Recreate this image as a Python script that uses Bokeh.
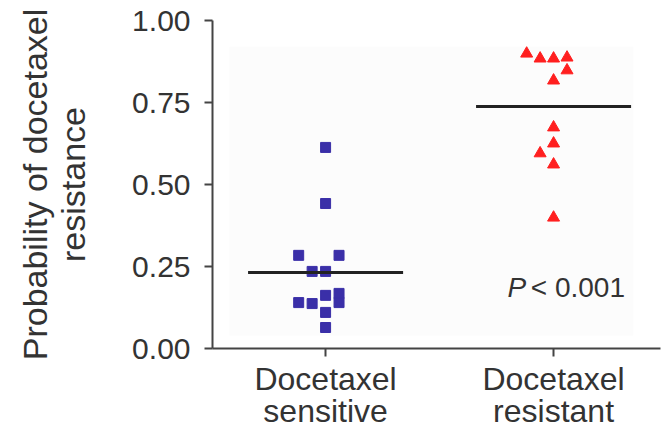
from bokeh.plotting import figure
from bokeh.models import FixedTicker, Label, BoxAnnotation, ColumnDataSource
from bokeh.embed import file_html
from bokeh.resources import INLINE

# ---- data ----
categories = ["Docetaxel\nsensitive", "Docetaxel\nresistant"]
category_positions = [1, 2]
sensitive_values = [0.613, 0.442, 0.284, 0.284, 0.235, 0.235, 0.140, 0.137,
                    0.162, 0.168, 0.140, 0.110, 0.064]
sensitive_slots = [0, 0, -2, 1, -1, 0, -2, -1, 0, 1, 1, 0, 0]
resistant_values = [0.899, 0.884, 0.884, 0.887, 0.848, 0.817, 0.674, 0.625,
                    0.595, 0.561, 0.399]
resistant_slots = [-2, -1, 0, 1, 1, 0, 0, 0, -1, 0, 0]
group_means = [0.232, 0.738]
y_ticks = [0, 0.25, 0.5, 0.75, 1.0]
y_tick_labels = ["0.00", "0.25", "0.50", "0.75", "1.00"]
p_text = "< 0.001"

FONT = "Liberation Sans"
SLOT = 0.059
HALF = 0.34

p = figure(width=661, height=432, output_backend="svg", toolbar_location=None,
           x_range=(0.504, 2.469), y_range=(0, 1),
           min_border_left=212, min_border_right=1, min_border_top=20,
           min_border_bottom=84)
p.outline_line_color = None
p.grid.grid_line_color = None
p.background_fill_color = "white"
p.border_fill_color = "white"

p.add_layout(BoxAnnotation(left=0.578, right=2.35, bottom=0.04, top=0.92,
                           fill_color="#fcfcfc", fill_alpha=1, line_color=None,
                           level="underlay"))

# axes
p.xaxis.ticker = FixedTicker(ticks=category_positions)
p.xaxis.major_label_overrides = dict(zip(category_positions, categories))
p.yaxis.ticker = FixedTicker(ticks=y_ticks)
p.yaxis.major_label_overrides = dict(zip(y_ticks, y_tick_labels))
for ax in (p.xaxis, p.yaxis):
    ax.axis_line_color = "#444444"
    ax.axis_line_width = 2
    ax.major_tick_line_color = "#444444"
    ax.major_tick_line_width = 2
    ax.major_tick_out = 8
    ax.major_tick_in = 0
    ax.minor_tick_line_color = None
    ax.major_label_text_font = FONT
    ax.major_label_text_color = "#333333"
p.yaxis.major_label_text_font_size = "30px"
p.yaxis.major_label_standoff = 14
p.xaxis.major_label_text_font_size = "32px"
p.xaxis.major_label_text_line_height = 0.9
p.xaxis.major_label_standoff = 4
p.yaxis.axis_label = "Probability of docetaxel\nresistance"
p.yaxis.axis_label_text_font = FONT
p.yaxis.axis_label_text_font_size = "34px"
p.yaxis.axis_label_text_line_height = 1.0
p.yaxis.axis_label_text_font_style = "normal"
p.yaxis.axis_label_text_color = "#333333"
p.yaxis.axis_label_standoff = 37

# points
src_s = ColumnDataSource(dict(x=[category_positions[0] + s * SLOT for s in sensitive_slots],
                              y=sensitive_values))
src_r = ColumnDataSource(dict(x=[category_positions[1] + s * SLOT for s in resistant_slots],
                              y=resistant_values))
p.scatter("x", "y", source=src_s, marker="square", size=10,
          fill_color="#3a2fa8", line_color="#3a2fa8")
p.scatter("x", "y", source=src_r, marker="triangle", size=12,
          fill_color="#ff1f1f", line_color="#ff1f1f")

# mean lines
p.segment(x0=[c - HALF for c in category_positions], x1=[c + HALF for c in category_positions],
          y0=group_means, y1=group_means, line_color="#222222", line_width=3)

# p-value
p.add_layout(Label(x=1.798, y=0.186, text="P", text_font=FONT, text_font_size="28px",
                   text_font_style="italic", text_color="#333333", text_baseline="alphabetic"))
p.add_layout(Label(x=1.900, y=0.186, text=p_text, text_font=FONT, text_font_size="28px",
                   text_color="#333333", text_baseline="alphabetic"))

open("out.html", "w").write(file_html(p, INLINE))
